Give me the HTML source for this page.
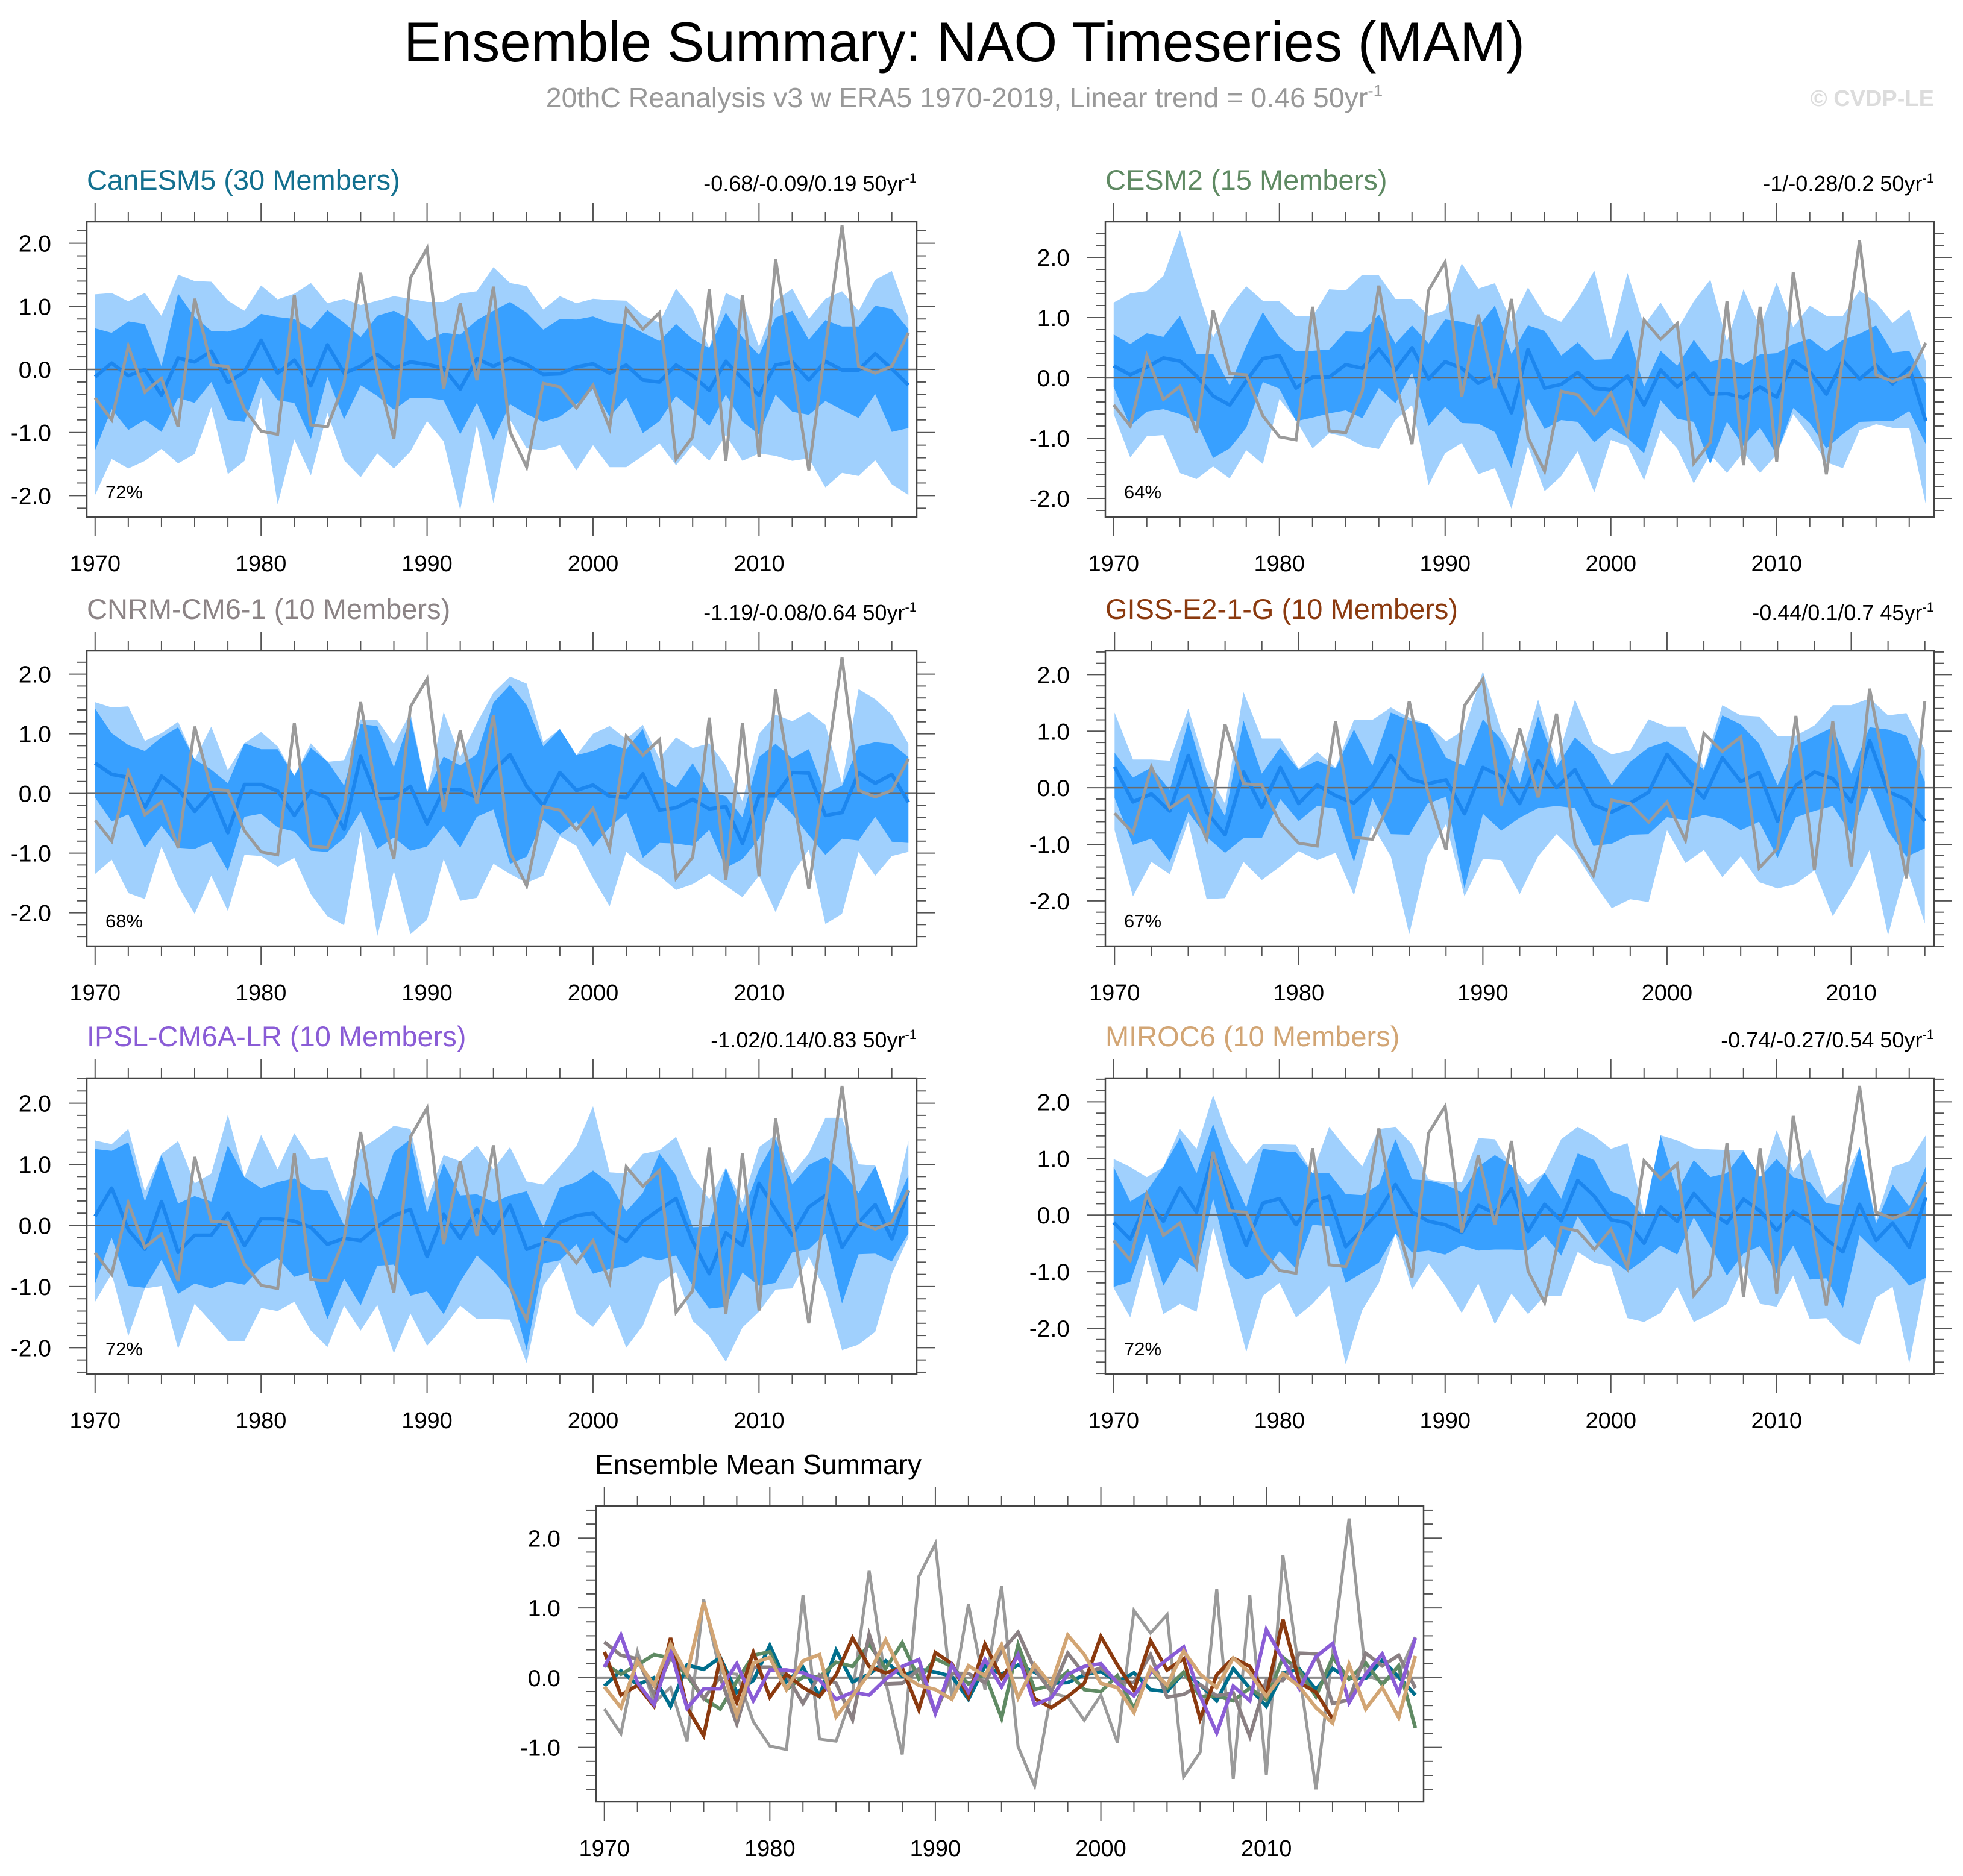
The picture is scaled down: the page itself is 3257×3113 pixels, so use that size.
<!DOCTYPE html>
<html>
<head>
<meta charset="utf-8">
<style>
  html,body{margin:0;padding:0;background:#fff;}
  svg{display:block;font-family:"Liberation Sans",Arial,sans-serif;}
</style>
</head>
<body>
<svg id="chart" xmlns="http://www.w3.org/2000/svg" width="3257" height="3113" viewBox="0 0 3257 3113">
  <rect x="0" y="0" width="3257" height="3113" fill="#ffffff"/>
  <text x="1600" y="102" text-anchor="middle" font-size="94" fill="#000" textLength="1860" lengthAdjust="spacingAndGlyphs">Ensemble Summary: NAO Timeseries (MAM)</text>
  <text x="1600" y="178" text-anchor="middle" font-size="46.5" fill="#999">20thC Reanalysis v3 w ERA5 1970-2019, Linear trend = 0.46 50yr<tspan dy="-18" font-size="28">-1</tspan></text>
  <text x="3209" y="176" text-anchor="end" font-size="38" font-weight="bold" fill="#dcdcdc">© CVDP-LE</text>

  <text x="144" y="315" font-size="47" fill="#13708f">CanESM5 (30 Members)</text>
  <text x="1521" y="317" text-anchor="end" font-size="36" fill="#000">-0.68/-0.09/0.19 50yr<tspan dy="-14" font-size="22">-1</tspan></text>
  <text x="1834" y="315" font-size="47" fill="#5f8a63">CESM2 (15 Members)</text>
  <text x="3209" y="317" text-anchor="end" font-size="36" fill="#000">-1/-0.28/0.2 50yr<tspan dy="-14" font-size="22">-1</tspan></text>

  <text x="144" y="1027" font-size="47" fill="#8c8486">CNRM-CM6-1 (10 Members)</text>
  <text x="1521" y="1029" text-anchor="end" font-size="36" fill="#000">-1.19/-0.08/0.64 50yr<tspan dy="-14" font-size="22">-1</tspan></text>
  <text x="1834" y="1027" font-size="47" fill="#8b3a0f">GISS-E2-1-G (10 Members)</text>
  <text x="3209" y="1029" text-anchor="end" font-size="36" fill="#000">-0.44/0.1/0.7 45yr<tspan dy="-14" font-size="22">-1</tspan></text>

  <text x="144" y="1736" font-size="47" fill="#8a5cd6">IPSL-CM6A-LR (10 Members)</text>
  <text x="1521" y="1738" text-anchor="end" font-size="36" fill="#000">-1.02/0.14/0.83 50yr<tspan dy="-14" font-size="22">-1</tspan></text>
  <text x="1834" y="1736" font-size="47" fill="#d2a574">MIROC6 (10 Members)</text>
  <text x="3209" y="1738" text-anchor="end" font-size="36" fill="#000">-0.74/-0.27/0.54 50yr<tspan dy="-14" font-size="22">-1</tspan></text>

  <text x="987" y="2446" font-size="46" fill="#000">Ensemble Mean Summary</text>
  <g id="plots"></g>
</svg>
<script>
// ---------------- data ----------------
const obsValues = [-0.45,-0.80,0.37,-0.36,-0.14,-0.91,1.12,0.07,0.05,-0.63,-0.98,-1.03,1.18,-0.88,-0.91,-0.22,1.53,-0.06,-1.10,1.45,1.92,-0.31,1.05,-0.17,1.31,-0.99,-1.55,-0.22,-0.28,-0.61,-0.25,-0.93,0.96,0.64,0.90,-1.42,-1.07,1.27,-1.45,1.18,-1.39,1.75,0.05,-1.60,0.35,2.28,0.05,-0.06,0.05,0.58];
const obsGissValues = [-0.45,-0.80,0.37,-0.36,-0.14,-0.91,1.12,0.07,0.05,-0.63,-0.98,-1.03,1.18,-0.88,-0.91,-0.22,1.53,-0.06,-1.10,1.45,1.92,-0.31,1.05,-0.17,1.31,-0.99,-1.55,-0.22,-0.28,-0.61,-0.25,-0.93,0.96,0.64,0.90,-1.42,-1.07,1.27,-1.45,1.18,-1.39,1.75,0.05,-1.60,1.53];

const canMean = [-0.12,0.10,-0.10,0,-0.41,0.18,0.12,0.29,-0.21,-0.04,0.46,-0.06,0.15,-0.26,0.39,-0.06,0.05,0.24,0.02,0.12,0.08,0.02,-0.31,0.17,0.05,0.18,0.08,-0.08,-0.07,0.04,0.09,-0.06,0.07,-0.17,-0.20,0.07,-0.10,-0.33,0.13,-0.15,-0.41,0.07,0.12,-0.17,0.13,-0.01,-0.01,0.25,0.01,-0.25];
const canDarkHi = [0.65,0.58,0.76,0.72,0.05,1.2,0.83,0.61,0.6,0.67,0.88,0.83,0.8,0.64,0.94,0.74,0.51,0.85,0.93,0.79,0.45,0.58,0.55,0.78,0.93,1.07,0.90,0.63,0.80,0.79,0.84,0.74,0.72,0.58,0.45,0.72,0.48,0.34,0.90,0.51,0.23,0.82,0.93,0.47,0.78,0.68,0.68,1.01,0.96,0.64];
const canDarkLo = [-1.28,-0.63,-0.96,-0.80,-0.99,-0.45,-0.53,-0.20,-0.80,-0.83,-0.12,-0.49,-0.53,-1.10,-0.12,-0.79,-0.25,-0.42,-0.64,-0.45,-0.45,-0.49,-1.03,-0.53,-1.12,-0.55,-0.71,-0.83,-0.75,-0.55,-0.31,-0.75,-0.45,-1.01,-0.82,-0.42,-0.64,-0.90,-0.40,-0.83,-1.03,-0.40,-0.67,-0.72,-0.50,-0.64,-0.77,-0.39,-0.99,-0.93];
const canLightHi = [1.19,1.21,1.08,1.21,0.85,1.5,1.4,1.39,1.09,0.93,1.33,1.11,1.2,1.37,1.05,1.12,1.02,1.09,1.16,1.12,1.07,1.07,1.2,1.24,1.62,1.37,1.32,0.95,1.16,1.05,1.12,1.1,1.09,0.86,0.74,1.28,0.96,0.34,1.21,1.09,0.36,1.09,1.28,0.8,1.12,1.24,0.93,1.42,1.56,0.83];
const canLightLo = [-1.99,-1.42,-1.57,-1.45,-1.26,-1.49,-1.34,-0.60,-1.66,-1.45,-0.44,-2.14,-1.11,-1.68,-0.69,-1.44,-1.71,-1.33,-1.57,-1.30,-0.82,-1.14,-2.23,-0.88,-2.12,-0.80,-1.25,-1.28,-1.20,-1.60,-1.20,-1.55,-1.55,-1.37,-1.17,-1.52,-1.20,-1.45,-1.04,-1.45,-1.33,-1.37,-1.45,-1.41,-1.87,-1.64,-1.69,-1.44,-1.82,-1.99];

const cesmMean = [0.20,0.05,0.18,0.33,0.28,0.03,-0.30,-0.45,-0.05,0.32,0.37,-0.17,0.01,0.01,0.22,0.16,0.48,0.13,0.50,-0.02,0.27,0.16,-0.09,0.05,-0.58,0.47,-0.17,-0.11,0.09,-0.17,-0.20,0.03,-0.45,0.13,-0.15,0.08,-0.27,-0.26,-0.33,-0.15,-0.32,0.29,0.10,-0.27,0.29,-0.02,0.21,-0.10,0.17,-0.72];
const cesmDarkHi = [0.72,0.56,0.74,0.68,1.03,0.40,0.40,-0.13,0.53,1.09,0.67,0.44,0.45,0.47,0.77,0.76,1.05,0.57,0.87,0.57,0.97,0.93,0.85,1.20,0.40,0.87,0.78,0.37,0.59,0.30,0.31,0.80,-0.15,0.45,0.20,0.63,0.27,0.33,0.22,0.39,0.41,0.56,0.65,0.44,0.63,0.73,0.87,0.42,0.45,-0.10];
const cesmDarkLo = [-0.15,-0.80,-0.56,-0.52,-0.60,-0.73,-1.33,-1.17,-0.83,-0.07,-0.18,-0.72,-0.66,-0.59,-0.54,-0.67,-0.17,-0.42,0.09,-0.80,-0.48,-0.75,-0.76,-0.90,-1.50,-0.33,-0.85,-0.70,-0.73,-1.07,-0.83,-1.00,-1.25,-0.37,-0.68,-0.73,-1.43,-0.73,-1.13,-0.83,-1.27,-0.50,-0.75,-1.17,-0.93,-0.73,-0.72,-0.72,-0.55,-1.10];
const cesmLightHi = [1.25,1.40,1.44,1.69,2.45,1.50,0.67,1.18,1.52,1.28,1.27,1.02,1.02,1.47,1.45,1.71,1.70,1.31,1.31,1.03,1.12,1.90,1.48,1.57,0.93,1.50,1.05,0.93,1.30,1.78,0.65,1.74,0.87,1.25,0.80,1.27,1.63,0.60,1.47,0.84,1.58,0.84,1.20,1.03,1.03,1.45,1.25,0.91,1.14,0.27];
const cesmLightLo = [-0.60,-1.32,-0.97,-0.95,-1.58,-1.68,-1.47,-1.67,-1.20,-1.43,-0.35,-0.70,-1.17,-0.92,-0.98,-1.13,-1.18,-0.70,-0.45,-1.78,-1.25,-1.08,-1.60,-1.50,-2.17,-1.13,-1.88,-1.63,-1.22,-1.90,-1.03,-1.13,-1.70,-0.87,-1.17,-1.75,-1.27,-1.58,-1.23,-1.58,-1.27,-0.60,-0.97,-1.40,-1.50,-0.87,-0.77,-0.83,-0.83,-2.10];

const cnrmMean = [0.51,0.32,0.27,-0.24,0.29,0.07,-0.30,0.01,-0.66,0.15,0.15,0.04,-0.37,0.04,-0.08,-0.60,0.62,-0.09,-0.08,0.12,-0.51,0.06,0.06,-0.07,0.38,0.65,0.12,-0.20,0.35,0.05,0.14,-0.05,-0.07,0.33,-0.28,-0.24,-0.10,-0.26,-0.22,-0.84,-0.04,-0.04,0.35,0.34,-0.37,-0.32,0.35,0.17,0.32,-0.15];
const cnrmDarkHi = [1.42,1.01,0.81,0.71,0.94,1.11,0.57,0.40,0.17,0.84,0.74,0.74,0.30,0.76,0.54,0.13,1.16,1.13,0.44,1.28,0.02,0.62,0.47,0.66,1.52,1.82,1.48,0.79,1.08,0.64,0.71,0.83,0.74,1.08,0.27,0.10,0.51,0.03,-0.05,-0.40,0.61,0.83,0.59,0.74,0.00,0.13,0.79,0.86,0.83,0.61];
const cnrmDarkLo = [-0.07,-0.47,-0.35,-0.91,-0.54,-0.91,-0.93,-0.81,-1.30,-0.39,-0.34,-0.57,-0.64,-0.96,-0.98,-0.75,-0.30,-0.93,-0.74,-0.96,-0.89,-0.54,-0.91,-0.39,-0.27,-1.18,-1.06,-0.44,-0.69,-0.47,-0.89,-0.57,-0.32,-1.08,-0.83,-0.84,-0.88,-0.61,-1.25,-1.10,-0.76,-0.07,-0.35,-0.70,-1.03,-0.76,-0.79,-0.39,-0.81,-0.83];
const cnrmLightHi = [1.53,1.44,1.46,0.88,1.01,1.20,0.57,1.12,0.39,0.84,1.03,0.79,0.30,0.84,0.53,0.56,1.24,1.23,0.83,1.35,0.02,1.37,0.61,1.18,1.69,1.96,1.84,0.86,1.08,0.64,1.00,1.13,0.91,1.15,0.59,0.94,0.76,0.84,0.47,-0.13,1.00,1.32,1.21,1.37,1.15,0.17,1.75,1.58,1.32,0.83];
const cnrmLightLo = [-1.35,-1.11,-1.67,-1.77,-0.89,-1.55,-2.02,-1.38,-1.97,-1.03,-1.05,-1.23,-1.08,-1.69,-2.06,-2.21,-0.64,-2.39,-1.30,-2.36,-2.12,-1.10,-1.80,-1.75,-1.18,-1.35,-1.50,-1.38,-0.72,-0.88,-1.42,-1.89,-0.98,-1.21,-1.38,-1.62,-1.52,-1.35,-1.55,-1.74,-1.38,-1.99,-1.35,-0.94,-2.19,-2.02,-0.98,-1.38,-1.05,-0.98];

const gissMean = [0.37,-0.25,-0.11,-0.41,0.57,-0.43,-0.83,0.28,-0.35,0.36,-0.28,0.05,-0.14,-0.27,0.04,0.57,0.16,0.07,0.14,-0.46,0.36,0.20,-0.28,0.48,0.00,0.32,-0.30,-0.43,-0.27,-0.08,0.59,0.18,-0.18,0.53,0.11,0.27,-0.59,0.04,0.28,0.16,-0.25,0.83,-0.07,-0.21,-0.59];
const gissDarkHi = [0.62,0.18,0.36,-0.04,1.17,0.07,-0.50,1.19,0.25,0.71,0.32,0.48,0.34,1.03,0.39,1.33,1.19,1.12,0.53,0.39,1.21,0.85,0.07,1.26,0.36,0.89,0.59,0.04,0.46,0.71,0.82,0.60,0.32,1.28,1.12,0.78,0.04,0.75,0.91,1.07,0.25,1.07,1.03,0.92,0.11];
const gissDarkLo = [-0.18,-1.01,-0.90,-1.31,-0.43,-0.87,-1.15,-0.89,-0.89,-0.20,-0.59,-0.32,-0.37,-1.31,-0.18,-0.82,-0.83,-0.28,-0.16,-1.78,-0.46,-0.76,-0.53,-0.36,-0.32,-0.36,-1.03,-0.99,-0.83,-0.82,-0.52,-0.57,-0.48,-0.55,-0.75,-0.60,-1.24,-0.52,-0.41,-0.32,-0.82,0.04,-0.76,-1.22,-1.07];
const gissLightHi = [1.33,0.50,0.50,0.48,1.40,0.32,-0.28,1.69,0.87,0.87,0.34,0.63,0.36,1.20,1.20,1.42,1.24,1.12,0.82,1.03,2.06,1.00,0.43,1.56,0.43,1.56,0.78,0.59,0.66,1.21,1.08,1.08,0.35,1.46,1.28,1.26,0.91,0.92,1.10,1.46,1.46,1.58,1.28,1.32,0.67];
const gissLightLo = [-0.75,-1.92,-1.31,-1.53,-0.60,-1.97,-1.95,-1.31,-1.63,-1.39,-1.12,-1.28,-1.15,-1.90,-0.67,-1.21,-2.59,-1.21,-0.64,-1.92,-1.26,-1.28,-1.88,-1.21,-0.82,-1.14,-1.67,-2.13,-1.97,-2.02,-0.75,-1.33,-1.10,-1.58,-1.21,-1.67,-1.78,-1.70,-1.46,-2.27,-1.74,-1.10,-2.61,-1.40,-2.40];

const ipslMean = [0.15,0.61,-0.07,-0.39,0.39,-0.44,-0.16,-0.16,0.20,-0.33,0.11,0.11,0.07,-0.03,-0.31,-0.21,-0.25,-0.02,0.16,0.26,-0.51,0.18,-0.21,0.26,-0.13,0.33,-0.39,-0.29,0.05,0.16,0.20,-0.08,-0.26,0.07,0.26,0.44,-0.26,-0.79,-0.12,-0.33,0.69,0.26,-0.16,0.30,0.49,-0.36,0.05,0.34,-0.22,0.57];
const ipslDarkHi = [1.25,1.22,1.36,0.39,1.15,0.36,0.48,0.39,1.31,0.79,0.61,0.71,0.77,0.59,0.57,0.00,0.71,0.41,1.20,1.41,0.20,1.02,0.49,0.51,0.38,0.49,0.56,-0.03,0.62,0.71,0.90,0.69,0.23,0.53,1.18,0.82,-0.03,-0.02,0.94,0.20,0.92,1.41,0.67,0.99,1.12,0.89,0.53,0.97,0.20,0.82];
const ipslDarkLo = [-0.95,-0.20,-0.99,-1.02,-0.56,-1.12,-0.95,-1.03,-0.92,-0.97,-0.69,-0.53,-0.84,-0.76,-1.53,-0.87,-1.31,-0.66,-0.64,-1.15,-1.08,-1.45,-0.92,-0.49,-0.74,-1.05,-2.04,-0.62,-0.57,-0.31,-0.79,-0.71,-0.67,-0.51,-0.57,-0.49,-0.99,-1.36,-1.33,-0.77,-0.99,-0.94,-0.44,-0.39,-0.13,-1.28,-0.47,-0.46,-0.59,-0.13];
const ipslLightHi = [1.39,1.33,1.58,0.56,1.17,1.38,0.69,0.85,1.81,0.79,1.48,0.92,1.51,1.08,1.12,0.38,1.25,1.43,1.63,1.58,0.43,1.15,1.05,1.31,0.92,1.28,0.72,0.67,0.97,1.30,1.95,0.87,0.85,1.17,1.23,1.45,0.80,0.43,0.95,0.38,1.28,1.48,0.85,1.18,1.76,1.76,1.00,0.98,0.20,1.38];
const ipslLightLo = [-1.25,-0.79,-1.81,-1.03,-0.99,-2.02,-1.28,-1.58,-1.89,-1.89,-1.35,-1.40,-1.25,-1.72,-1.99,-1.31,-1.72,-1.30,-2.09,-1.44,-1.97,-1.67,-1.31,-1.53,-1.53,-1.54,-2.25,-0.99,-0.61,-1.44,-1.66,-1.30,-2.00,-1.64,-0.95,-0.76,-1.56,-1.81,-2.23,-1.67,-1.41,-1.05,-1.03,-0.51,-1.08,-2.04,-1.95,-1.74,-0.79,-0.20];

const mirocMean = [-0.13,-0.43,0.24,-0.11,0.48,0.05,1.08,0.24,-0.54,0.21,0.29,-0.17,0.24,0.33,-0.56,-0.26,0.06,0.54,0.05,-0.11,-0.17,-0.31,0.17,0.03,0.47,-0.29,0.19,-0.10,0.61,0.33,-0.08,-0.14,-0.50,0.14,-0.11,0.38,0.05,-0.14,0.28,0.07,-0.27,0.06,-0.13,-0.43,-0.65,0.19,-0.45,-0.14,-0.57,0.31];
const mirocDarkHi = [0.85,0.24,0.42,0.85,1.36,0.74,1.61,0.77,0.13,1.17,1.13,1.11,0.74,0.74,0.37,0.35,0.54,1.34,0.63,0.61,0.54,0.40,0.85,1.06,0.88,0.31,0.75,0.29,1.09,0.97,0.42,0.31,-0.04,1.41,0.42,0.97,0.67,0.74,1.13,0.67,0.99,0.67,0.58,0.21,0.17,1.20,-0.15,0.54,0.15,0.86];
const mirocDarkLo = [-1.27,-1.18,-0.33,-1.25,-0.75,-0.96,0.29,-0.88,-1.14,-1.05,-0.64,-0.95,-0.17,-0.20,-1.20,-1.02,-0.84,-0.33,-0.66,-0.63,-0.70,-0.54,-0.63,-0.61,-0.61,-0.63,-0.36,-0.72,-0.02,-0.47,-0.77,-1.00,-0.79,-0.54,-0.70,-0.04,-0.55,-1.07,-0.68,-0.55,-1.03,-0.54,-1.14,-1.12,-1.64,-0.36,-0.65,-0.90,-1.25,-1.11];
const mirocLightHi = [0.99,0.85,0.67,0.85,1.52,1.17,2.12,1.31,0.90,1.25,1.25,1.24,0.74,1.56,1.19,0.86,1.52,1.56,1.25,0.63,0.58,0.58,1.36,1.34,0.85,0.54,0.75,1.34,1.56,1.40,1.17,1.27,-0.01,1.41,1.32,1.18,1.16,1.15,1.15,0.56,1.50,0.77,1.16,0.30,0.58,1.20,-0.08,0.85,0.95,1.41];
const mirocLightLo = [-1.29,-1.81,-0.70,-1.75,-1.57,-1.71,-0.22,-1.32,-2.42,-1.43,-1.20,-1.81,-1.57,-1.25,-2.64,-1.68,-1.20,-0.33,-1.32,-0.86,-1.25,-1.73,-1.21,-1.93,-1.39,-1.75,-1.43,-1.43,-0.65,-0.84,-0.91,-1.82,-1.89,-1.73,-1.27,-1.89,-1.75,-1.57,-0.90,-1.57,-1.62,-1.07,-1.84,-1.82,-2.14,-2.30,-1.46,-1.27,-2.62,-1.11];

const pctLabels = ["72%","64%","68%","67%","72%","72%"];
const yTickLabelsPanel = ["2.0","1.0","0.0","-1.0","-2.0"];
const yTickValuesPanel = [2,1,0,-1,-2];
const yTickLabelsSummary = ["2.0","1.0","0.0","-1.0"];
const yTickValuesSummary = [2,1,0,-1];
const xTickYears = [1970,1980,1990,2000,2010];
const modelNames = ["canesm5","cesm2","cnrm","giss","ipsl","miroc6"];
const modelColors = ["#006e8c","#5f8a63","#8a8083","#8b3a0f","#8a5cd6","#d2a574"];

// ---------------- drawing ----------------
const NS = "http://www.w3.org/2000/svg";
const root = document.getElementById("plots");
function mk(tag, attrs, parent){
  const e = document.createElementNS(NS, tag);
  for (const k in attrs) e.setAttribute(k, attrs[k]);
  parent.appendChild(e);
  return e;
}

const panels = [
  {id:"canesm5", x:144, y:368, w:1377, h:490, ymin:-2.34, ymax:2.34, start:1970, obs:obsValues, mean:canMean, dHi:canDarkHi, dLo:canDarkLo, lHi:canLightHi, lLo:canLightLo, pct:0},
  {id:"cesm2", x:1834, y:368, w:1375, h:490, ymin:-2.31, ymax:2.59, start:1970, obs:obsValues, mean:cesmMean, dHi:cesmDarkHi, dLo:cesmDarkLo, lHi:cesmLightHi, lLo:cesmLightLo, pct:1},
  {id:"cnrm", x:144, y:1080, w:1377, h:490, ymin:-2.56, ymax:2.39, start:1970, obs:obsValues, mean:cnrmMean, dHi:cnrmDarkHi, dLo:cnrmDarkLo, lHi:cnrmLightHi, lLo:cnrmLightLo, pct:2},
  {id:"giss", x:1834, y:1080, w:1375, h:490, ymin:-2.80, ymax:2.42, start:1970, obs:obsGissValues, mean:gissMean, dHi:gissDarkHi, dLo:gissDarkLo, lHi:gissLightHi, lLo:gissLightLo, pct:3},
  {id:"ipsl", x:144, y:1789, w:1377, h:491, ymin:-2.43, ymax:2.41, start:1970, obs:obsValues, mean:ipslMean, dHi:ipslDarkHi, dLo:ipslDarkLo, lHi:ipslLightHi, lLo:ipslLightLo, pct:4},
  {id:"miroc6", x:1834, y:1789, w:1375, h:491, ymin:-2.81, ymax:2.42, start:1970, obs:obsValues, mean:mirocMean, dHi:mirocDarkHi, dLo:mirocDarkLo, lHi:mirocLightHi, lLo:mirocLightLo, pct:5}
];

function makeScales(p, n){
  const x0 = p.start - 0.5, x1 = p.start + n - 0.5;
  return {
    xs: yr => p.x + (yr - x0) / (x1 - x0) * p.w,
    ys: v => p.y + (p.ymax - v) / (p.ymax - p.ymin) * p.h,
    endYear: p.start + n - 1
  };
}

function drawAxes(p, g, sc, yVals, yLabs){
  const lo = Math.ceil(p.ymin / 0.2 - 1e-6), hi = Math.floor(p.ymax / 0.2 + 1e-6);
  for (let k = lo; k <= hi; k++){
    const v = k * 0.2;
    const major = Math.abs(v - Math.round(v)) < 1e-6;
    const len = major ? 30 : 16;
    const y = sc.ys(v);
    const tl = mk("line", {x1:p.x - len, y1:y, x2:p.x, y2:y, stroke:"#555", "stroke-width":2}, g);
    
    
    const tr = mk("line", {x1:p.x + p.w, y1:y, x2:p.x + p.w + len, y2:y, stroke:"#555", "stroke-width":2}, g);
    
    
  }
  for (let yr = p.start; yr <= sc.endYear; yr++){
    if (yr % 2 !== 0) continue;
    const major = yr % 10 === 0;
    const len = major ? 31 : 16;
    const x = sc.xs(yr);
    const tt = mk("line", {x1:x, y1:p.y - len, x2:x, y2:p.y, stroke:"#555", "stroke-width":2}, g);
    
    
    const tb = mk("line", {x1:x, y1:p.y + p.h, x2:x, y2:p.y + p.h + len, stroke:"#555", "stroke-width":2}, g);
    
    
  }
  yVals.forEach((v, i) => {
    const t = mk("text", {x:p.x - 59, y:sc.ys(v) + 14, "text-anchor":"end", "font-size":39, fill:"#000"}, g);
    t.textContent = yLabs[i];
    
    
  });
  xTickYears.forEach(yr => {
    const t = mk("text", {x:sc.xs(yr), y:p.y + p.h + 90, "text-anchor":"middle", "font-size":38, fill:"#000"}, g);
    t.textContent = String(yr);
    
    
  });
  const border = mk("rect", {x:p.x, y:p.y, width:p.w, height:p.h, fill:"none", stroke:"#444", "stroke-width":2.5}, g);
  
  
}

function linePoints(arr, sc, start){
  return arr.map((v, i) => sc.xs(start + i).toFixed(1) + "," + sc.ys(v).toFixed(1)).join(" ");
}
function bandPoints(hiArr, loArr, sc, start){
  const a = hiArr.map((v, i) => sc.xs(start + i).toFixed(1) + "," + sc.ys(v).toFixed(1));
  const b = loArr.map((v, i) => sc.xs(start + i).toFixed(1) + "," + sc.ys(v).toFixed(1)).reverse();
  return a.concat(b).join(" ");
}

panels.forEach(p => {
  const n = p.mean.length;
  const sc = makeScales(p, n);
  const g = mk("g", {}, root);
  
  

  const light = mk("polygon", {points:bandPoints(p.lHi, p.lLo, sc, p.start), fill:"#a0d0fd"}, g);
  
  

  const dark = mk("polygon", {points:bandPoints(p.dHi, p.dLo, sc, p.start), fill:"#38a0ff"}, g);
  
  

  const zero = mk("line", {x1:p.x, y1:sc.ys(0), x2:p.x + p.w, y2:sc.ys(0), stroke:"#6b6b6b", "stroke-width":2.5}, g);
  
  

  const meanLine = mk("polyline", {points:linePoints(p.mean, sc, p.start), fill:"none", stroke:"#1c86ee", "stroke-width":6, "stroke-linejoin":"round"}, g);
  
  

  const obsLine = mk("polyline", {points:linePoints(p.obs, sc, p.start), fill:"none", stroke:"#9a9a9a", "stroke-width":5, "stroke-linejoin":"miter"}, g);
  
  

  drawAxes(p, g, sc, yTickValuesPanel, yTickLabelsPanel);

  const pct = mk("text", {x:p.x + 31, y:p.y + p.h - 31, "font-size":31, fill:"#000"}, g);
  pct.textContent = pctLabels[p.pct];
  
  
});

const summary = {id:"summary", x:989, y:2499, w:1373, h:491, ymin:-1.78, ymax:2.46, start:1970};
(function(){
  const p = summary;
  const sc = makeScales(p, 50);
  const g = mk("g", {}, root);
  
  
  const zero = mk("line", {x1:p.x, y1:sc.ys(0), x2:p.x + p.w, y2:sc.ys(0), stroke:"#8a8a8a", "stroke-width":4}, g);
  
  
  const obsLine = mk("polyline", {points:linePoints(obsValues, sc, 1970), fill:"none", stroke:"#9a9a9a", "stroke-width":5}, g);
  
  
  panels.forEach((mp, i) => {
    const l = mk("polyline", {points:linePoints(mp.mean, sc, 1970), fill:"none", stroke:modelColors[i], "stroke-width":6, "stroke-linejoin":"miter"}, g);
    
    
  });
  drawAxes(p, g, sc, yTickValuesSummary, yTickLabelsSummary);
})();
</script>
</body>
</html>
